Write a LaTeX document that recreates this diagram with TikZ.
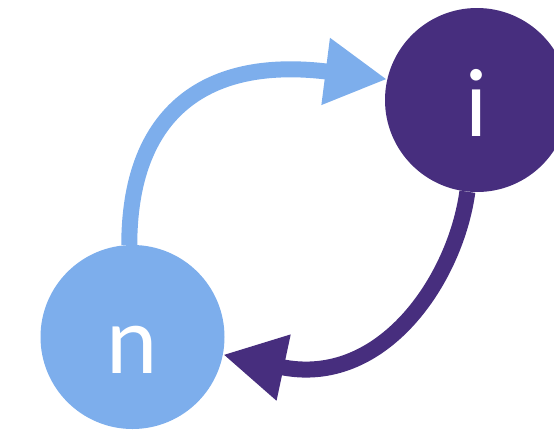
\documentclass[tikz,border=0pt]{standalone}
\usepackage{fontspec}
\setmainfont{Lato}
\usetikzlibrary{arrows.meta}
\definecolor{lightblue}{RGB}{125,174,236}
\definecolor{darkpurple}{RGB}{71,46,126}
\begin{document}
\begin{tikzpicture}[x=1pt,y=-1pt,
  statenode/.style={circle,minimum size=184pt,inner sep=0pt,text=white,
    font=\fontsize{92}{92}\selectfont,text height=72pt,text depth=0pt},
  edgeline/.style={line width=16pt,-{Triangle[length=62pt,width=63pt]}}]
\useasboundingbox (0,0) rectangle (554,429);
\clip (0,0) rectangle (554,429);
\node[statenode,fill=lightblue] (n) at (132.5,337) {n};
\node[statenode,fill=darkpurple] (i) at (477,100) {i};
\draw[edgeline,lightblue] (n.92) .. controls +(0,-126) and +(-188,-24) .. (i.167);
\draw[edgeline,darkpurple] (i.-96) .. controls +(-12,88) and +(159,34) .. (n.-11);
\end{tikzpicture}
\end{document}
